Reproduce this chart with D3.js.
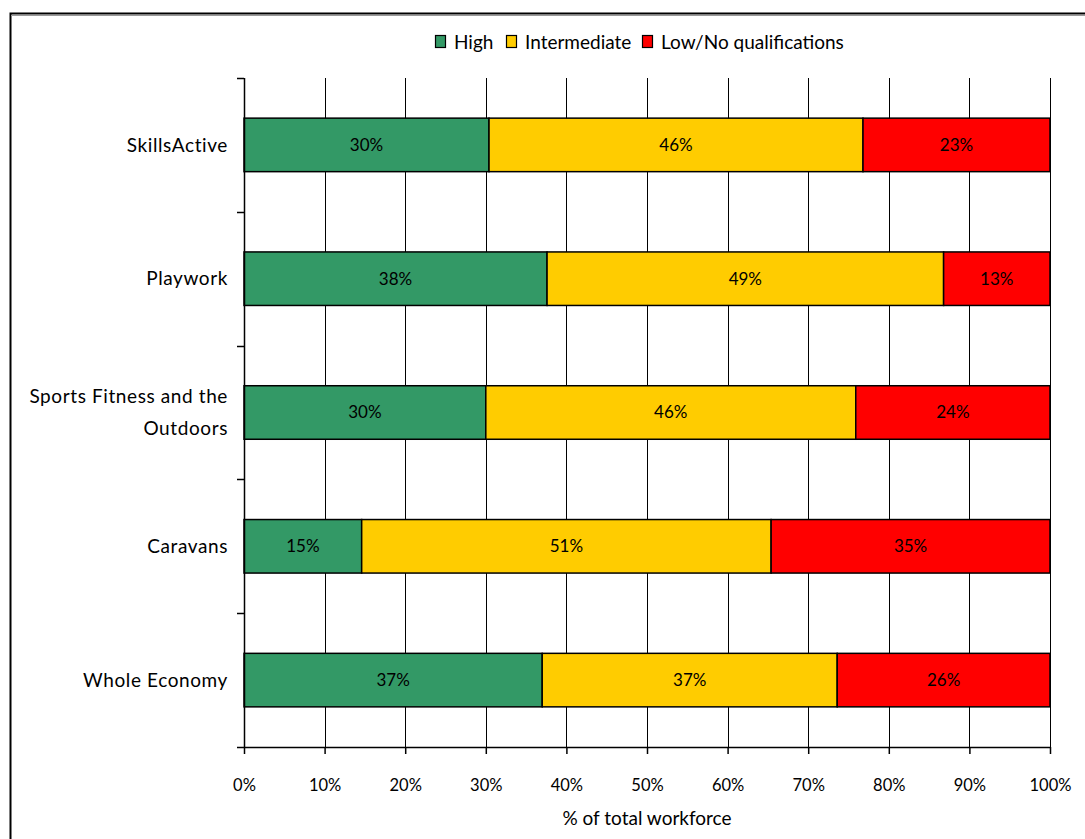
<!DOCTYPE html>
<html>
<head>
<meta charset="utf-8">
<script src="https://cdn.jsdelivr.net/npm/d3@7"></script>
<style>
  html, body { margin: 0; padding: 0; background: #fff; }
  svg { display: block; font-family: "Lato", "Open Sans", sans-serif; }
</style>
</head>
<body>
<svg id="chart" width="1085" height="839"></svg>
<script>
// Workforce by highest qualification level (% of total workforce)
const categories = ["SkillsActive", "Playwork", "Sports Fitness and the Outdoors", "Caravans", "Whole Economy"];
const seriesNames = ["High", "Intermediate", "Low/No qualifications"];
const high         = [30.4, 37.6, 30.0, 14.6, 37.0];
const intermediate = [46.4, 49.2, 45.9, 50.8, 36.6];
const lowNone      = [23.2, 13.2, 24.1, 34.6, 26.4];
const xTicks = [0, 10, 20, 30, 40, 50, 60, 70, 80, 90, 100];
const colors = ["#339966", "#FFCC00", "#FF0000"];
const xTitle = "% of total workforce";

const svg = d3.select("#chart");
const plotLeft = 244, plotRight = 1050, plotTop = 78, plotBottom = 747;

// outer frame
svg.append("rect").attr("x", 10.5).attr("y", 13.5).attr("width", 1100).attr("height", 900)
  .attr("fill", "none").attr("stroke", "#000").attr("stroke-width", 2);
svg.append("line").attr("x1", 11).attr("x2", 1085).attr("y1", 15.5).attr("y2", 15.5)
  .attr("stroke", "#999").attr("stroke-width", 1);

const x = d3.scaleLinear().domain([0, 100]).range([plotLeft, plotRight]);
const y = d3.scaleBand().domain(categories).range([plotTop, plotBottom]).paddingInner(0.6).paddingOuter(0.3);

// vertical gridlines
svg.append("g").selectAll("line").data(xTicks.slice(1)).join("line")
  .attr("x1", d => Math.round(x(d)) + 0.5).attr("x2", d => Math.round(x(d)) + 0.5)
  .attr("y1", plotTop).attr("y2", plotBottom)
  .attr("stroke", "#000").attr("stroke-width", 1);

// stacked data
const rows = categories.map((c, i) => ({ cat: c, High: high[i], Intermediate: intermediate[i], "Low/No qualifications": lowNone[i] }));
const stacked = d3.stack().keys(seriesNames)(rows);

const layers = svg.append("g").selectAll("g").data(stacked).join("g")
  .attr("fill", (d, i) => colors[i]);

layers.selectAll("rect").data(d => d).join("rect")
  .attr("x", d => x(d[0]))
  .attr("y", d => y(d.data.cat))
  .attr("width", d => x(d[1]) - x(d[0]))
  .attr("height", y.bandwidth())
  .attr("stroke", "#000").attr("stroke-width", 1.5);

layers.selectAll("text").data(d => d).join("text")
  .attr("x", d => (x(d[0]) + x(d[1])) / 2)
  .attr("y", d => y(d.data.cat) + y.bandwidth() / 2)
  .attr("dy", "0.35em")
  .attr("text-anchor", "middle")
  .attr("fill", "#000")
  .attr("font-size", 17)
  .text(d => Math.round(d[1] - d[0]) + "%");

// left axis with ticks at category boundaries
const step = y.step();
const bounds = d3.range(categories.length + 1).map(i => plotTop + i * step);
const yAxisG = svg.append("g");
yAxisG.append("line").attr("x1", plotLeft + 0.5).attr("x2", plotLeft + 0.5).attr("y1", plotTop).attr("y2", plotBottom)
  .attr("stroke", "#000").attr("stroke-width", 1.5);
yAxisG.selectAll("line.tick").data(bounds).join("line").attr("class", "tick")
  .attr("x1", plotLeft - 7).attr("x2", plotLeft).attr("y1", d => Math.round(d) + 0.5).attr("y2", d => Math.round(d) + 0.5)
  .attr("stroke", "#000").attr("stroke-width", 1.5);

// category labels
const labelG = svg.append("g").attr("font-size", 19).attr("letter-spacing", 0.6)
  .attr("text-anchor", "end").attr("fill", "#000");
categories.forEach(c => {
  const cy = y(c) + y.bandwidth() / 2;
  const t = labelG.append("text").attr("x", 228).attr("y", cy);
  if (c === "Sports Fitness and the Outdoors") {
    t.append("tspan").attr("x", 228).attr("dy", "-0.5em").text("Sports Fitness and the");
    t.append("tspan").attr("x", 228).attr("dy", "1.7em").text("Outdoors");
  } else {
    t.attr("dy", "0.35em").text(c);
  }
});

// bottom axis
const xAxis = d3.axisBottom(x).tickValues(xTicks).tickSize(7).tickPadding(25).tickFormat(d => d + "%");
const xg = svg.append("g").attr("transform", `translate(0,${plotBottom})`).call(xAxis);
xg.select(".domain").attr("stroke-width", 1.5).attr("d", `M${plotLeft},0.5H${plotRight}`);
xg.selectAll(".tick line").attr("stroke-width", 1.5);
xg.selectAll(".tick text").attr("font-size", 16.5).attr("font-family", "Lato, 'Open Sans', sans-serif").attr("fill", "#000");

svg.append("text").attr("x", (plotLeft + plotRight) / 2).attr("y", 825).attr("text-anchor", "middle")
  .attr("font-size", 19).attr("fill", "#000").text(xTitle);

// legend
const legendItems = [
  { name: seriesNames[0], color: colors[0], x: 435 },
  { name: seriesNames[1], color: colors[1], x: 506 },
  { name: seriesNames[2], color: colors[2], x: 642 }
];
const lg = svg.append("g");
legendItems.forEach(d => {
  lg.append("rect").attr("x", d.x + 0.5).attr("y", 35.5).attr("width", 10).attr("height", 12)
    .attr("fill", d.color).attr("stroke", "#000").attr("stroke-width", 1.2);
  lg.append("text").attr("x", d.x + 19).attr("y", 42).attr("dy", "0.35em")
    .attr("font-size", 19).attr("fill", "#000").text(d.name);
});
</script>
</body>
</html>
